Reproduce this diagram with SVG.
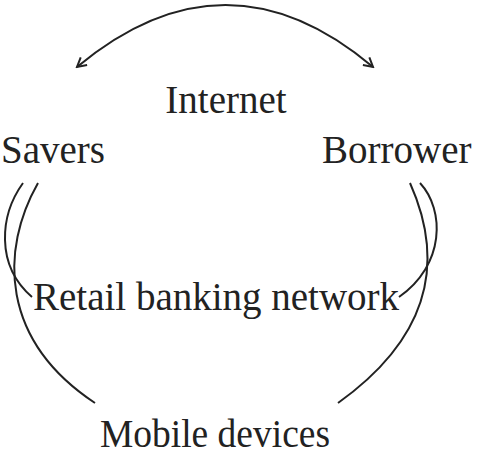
<svg xmlns="http://www.w3.org/2000/svg" width="480" height="456" viewBox="0 0 480 456">
<style>
.lbl{font-family:"Liberation Serif","Times New Roman",serif;font-size:39px;fill:#222}
.c{fill:none;stroke:#222;stroke-width:2}
</style>
<defs>
<marker id="ah" markerWidth="12" markerHeight="12" refX="10" refY="6" orient="auto-start-reverse" markerUnits="userSpaceOnUse">
<path d="M1,1 L10,6 L1,11" fill="none" stroke="#222" stroke-width="2"/>
</marker>
</defs>
<rect width="480" height="456" fill="#fff"/>
<g id="connectors">
<path class="c" d="M77,67 Q226,-57 373,67" marker-start="url(#ah)" marker-end="url(#ah)"/>
<path class="c" d="M23,183 C0,215 -5,265 32,297"/>
<path class="c" d="M38,183 C0,250 0,340 95,403"/>
<path class="c" d="M420,183 C445,210 445,265 399,297"/>
<path class="c" d="M410,183 C440,250 440,330 338,403"/>
</g>
<g id="internet"><text class="lbl" x="226" y="113" text-anchor="middle">Internet</text></g>
<g id="savers"><text class="lbl" x="1" y="163">Savers</text></g>
<g id="borrower"><text class="lbl" x="322" y="163">Borrower</text></g>
<g id="retail"><text class="lbl" x="33" y="310">Retail banking network</text></g>
<g id="mobile"><text class="lbl" x="100" y="447" textLength="230" lengthAdjust="spacingAndGlyphs">Mobile devices</text></g>
</svg>
